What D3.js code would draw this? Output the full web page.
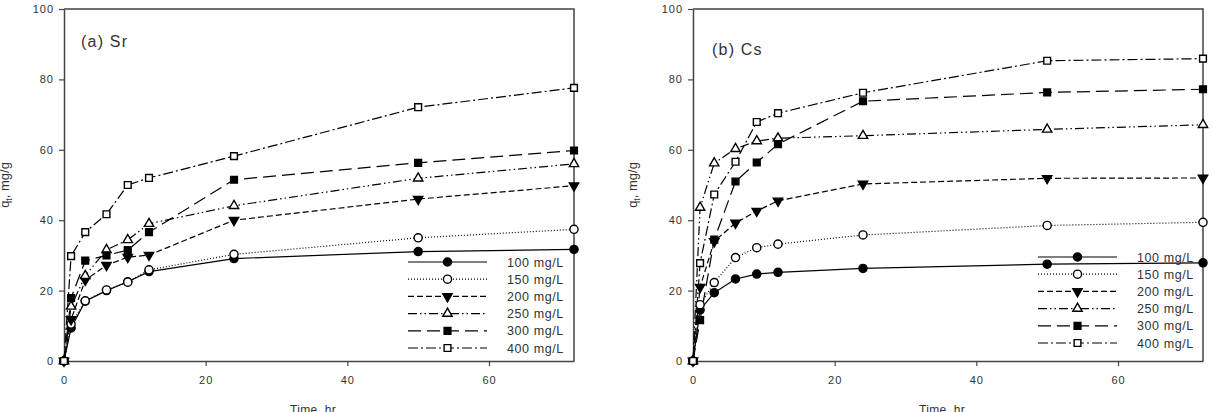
<!DOCTYPE html>
<html>
<head>
<meta charset="utf-8">
<script src="https://cdn.jsdelivr.net/npm/d3@7"></script>
<style>
  body { margin: 0; background: #fff; }
  text { font-family: "Liberation Sans", Arial, sans-serif; fill: #333; }
</style>
</head>
<body>
<svg id="chart" width="1213" height="412"></svg>
<script>
// sampling times (hr)
var times = [0, 1, 3, 6, 9, 12, 24, 50, 72];
var seriesNames = ["100 mg/L", "150 mg/L", "200 mg/L", "250 mg/L", "300 mg/L", "400 mg/L"];
var yTicks = [0, 20, 40, 60, 80, 100];
var xTicks = [0, 20, 40, 60];

// (a) Sr uptake, q_t in mg/g
var sr100 = [0, 9.4, 17, 20, 22.5, 25.4, 29.1, 31.1, 31.7];
var sr150 = [0, 10.5, 17.1, 20.2, 22.4, 25.9, 30.3, 35, 37.4];
var sr200 = [0, 11.8, 23, 27.2, 29.5, 30.1, 40, 46, 49.8];
var sr250 = [0, 15.5, 24.2, 31.6, 34.4, 39, 44.1, 51.9, 56];
var sr300 = [0, 17.9, 28.5, 30, 31.5, 36.6, 51.5, 56.3, 59.8];
var sr400 = [0, 29.8, 36.6, 41.7, 50, 52, 58.2, 72.1, 77.6];

// (b) Cs uptake, q_t in mg/g
var cs100 = [0, 14.5, 19.4, 23.3, 24.7, 25.2, 26.3, 27.5, 27.9];
var cs150 = [0, 16, 22.3, 29.4, 32.2, 33.2, 35.8, 38.5, 39.4];
var cs200 = [0, 21, 34, 39.2, 42.6, 45.5, 50.3, 51.9, 52];
var cs250 = [0, 43.6, 56.2, 60.3, 62.5, 63.3, 64, 65.8, 67.1];
var cs300 = [0, 11.6, 34.5, 51, 56.4, 61.6, 73.8, 76.3, 77.2];
var cs400 = [0, 27.8, 47.3, 56.6, 67.9, 70.4, 76.2, 85.3, 85.9];

(function () {
  var styles = [
    { dash: null, shape: d3.symbolCircle, fill: "#000", rot: 0, size: 52 },
    { dash: "1,2", shape: d3.symbolCircle, fill: "#fff", rot: 0, size: 52 },
    { dash: "6,3", shape: d3.symbolTriangle, fill: "#000", rot: 180, size: 38 },
    { dash: "9,3,1.5,3,1.5,3", shape: d3.symbolTriangle, fill: "#fff", rot: 0, size: 38 },
    { dash: "13,6", shape: d3.symbolSquare, fill: "#000", rot: 0, size: 46 },
    { dash: "10,3,2,3", shape: d3.symbolSquare, fill: "#fff", rot: 0, size: 46 }
  ];

  var panels = [
    { left: 64, right: 574, title: "(a) Sr", titleX: 81, titleY: 47, data: [sr100, sr150, sr200, sr250, sr300, sr400],
      legX: 408, legY: 262, ylabX: 4 },
    { left: 693, right: 1203, title: "(b) Cs", titleX: 712, titleY: 55, data: [cs100, cs150, cs200, cs250, cs300, cs400],
      legX: 1038, legY: 257, ylabX: 632 }
  ];

  var svg = d3.select("#chart");
  var plotTop = 9, plotBottom = 361;
  var axisColor = "#444";

  panels.forEach(function (p) {
    var x = d3.scaleLinear().domain([0, 72]).range([p.left, p.right]);
    var y = d3.scaleLinear().domain([0, 100]).range([plotBottom, plotTop]);
    var g = svg.append("g");

    // frame top + right
    g.append("path")
      .attr("d", "M" + p.left + "," + plotTop + "H" + p.right + "V" + plotBottom)
      .attr("fill", "none").attr("stroke", axisColor).attr("stroke-width", 1.5);

    var xa = g.append("g").attr("transform", "translate(0," + plotBottom + ")")
      .call(d3.axisBottom(x).tickValues(xTicks).tickSize(5).tickSizeOuter(0).tickPadding(10));
    var ya = g.append("g").attr("transform", "translate(" + p.left + ",0)")
      .call(d3.axisLeft(y).tickValues(yTicks).tickSize(5).tickSizeOuter(0).tickPadding(5));
    [xa, ya].forEach(function (a) {
      a.select(".domain").attr("stroke", axisColor).attr("stroke-width", 1.5);
      a.selectAll(".tick line").attr("stroke", axisColor).attr("stroke-width", 1.2);
      a.selectAll(".tick text").attr("font-size", 11).attr("fill", "#333")
        .attr("letter-spacing", 1)
        .attr("font-family", "Liberation Sans, Arial, sans-serif");
    });

    // axis titles
    g.append("text").attr("x", (p.left + p.right) / 2 - 6).attr("y", 414).attr("text-anchor", "middle")
      .attr("font-size", 12).attr("letter-spacing", 0.3).text("Time, hr");
    var yl = g.append("text").attr("transform", "translate(" + p.ylabX + ",185) rotate(-90)")
      .attr("text-anchor", "middle").attr("font-size", 13).attr("dy", "0.35em");
    yl.append("tspan").text("q");
    yl.append("tspan").attr("font-size", 8.5).attr("dy", 3).text("t");
    yl.append("tspan").attr("dy", -3).text(", mg/g");

    g.append("text").attr("x", p.titleX).attr("y", p.titleY).attr("font-size", 16)
      .attr("letter-spacing", 1.2).text(p.title);

    var line = d3.line().x(function (d, i) { return x(times[i]); }).y(function (d) { return y(d); });

    p.data.forEach(function (vals, k) {
      var st = styles[k];
      g.append("path").datum(vals).attr("d", line)
        .attr("fill", "none").attr("stroke", "#000").attr("stroke-width", 1.2)
        .attr("stroke-dasharray", st.dash);
    });
    p.data.forEach(function (vals, k) {
      var st = styles[k];
      g.selectAll(null).data(vals).enter().append("path")
        .attr("d", d3.symbol().type(st.shape).size(st.size))
        .attr("transform", function (d, i) {
          return "translate(" + x(times[i]) + "," + y(d) + ") rotate(" + st.rot + ")";
        })
        .attr("fill", st.fill).attr("stroke", "#000").attr("stroke-width", 1.4);
    });

    // legend
    seriesNames.forEach(function (name, k) {
      var st = styles[k];
      var ly = p.legY + k * 17.2;
      g.append("line").attr("x1", p.legX).attr("x2", p.legX + 79).attr("y1", ly).attr("y2", ly)
        .attr("stroke", "#000").attr("stroke-width", 1.2).attr("stroke-dasharray", st.dash);
      g.append("path").attr("d", d3.symbol().type(st.shape).size(st.size))
        .attr("transform", "translate(" + (p.legX + 39.5) + "," + ly + ") rotate(" + st.rot + ")")
        .attr("fill", st.fill).attr("stroke", "#000").attr("stroke-width", 1.4);
      g.append("text").attr("x", p.legX + 99).attr("y", ly + 4.5).attr("font-size", 12.5)
        .attr("letter-spacing", 0.6).text(name);
    });
  });
})();
</script>
</body>
</html>
